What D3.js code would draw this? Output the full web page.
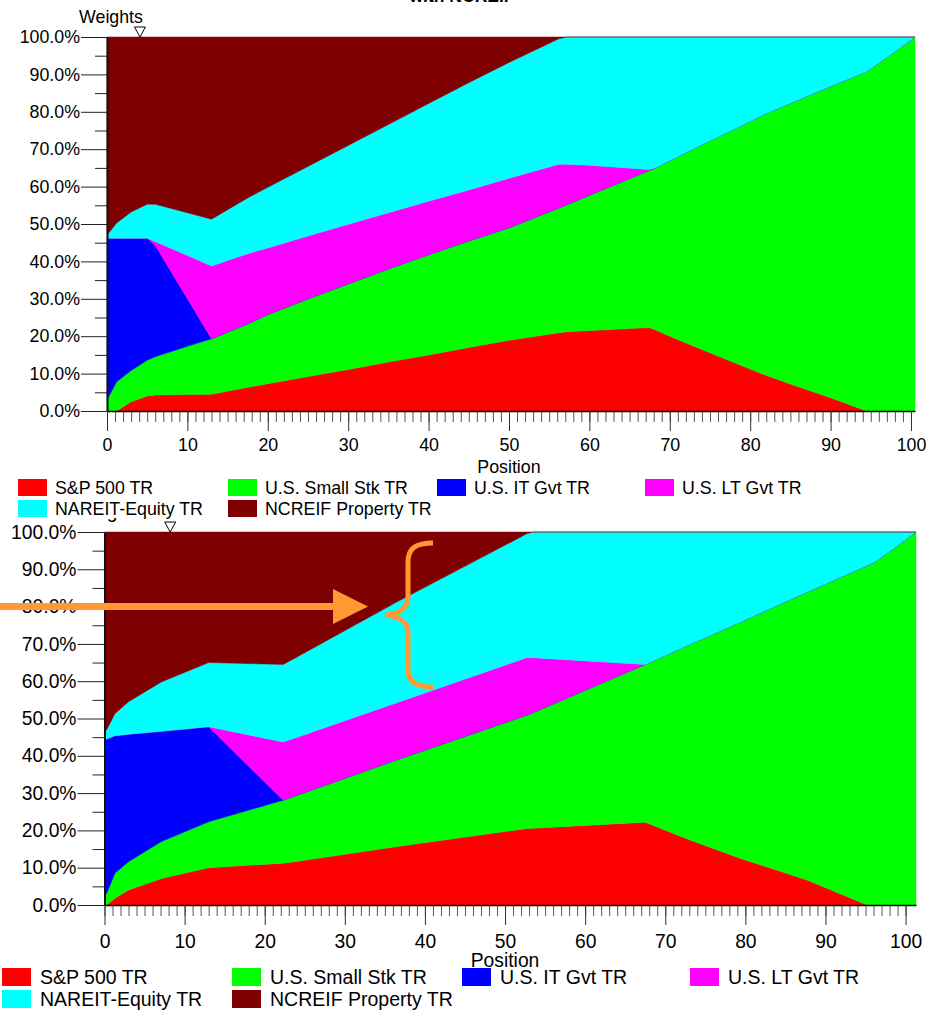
<!DOCTYPE html>
<html><head><meta charset="utf-8">
<script src="https://cdn.jsdelivr.net/npm/d3@7"></script>
<style>
body{margin:0;background:#fff}
svg{display:block}
text{font-family:"Liberation Sans",Arial,Helvetica,sans-serif;fill:#000}
</style>
</head><body>
<svg id="chart" width="930" height="1012"></svg>
<script>
// ---------- shared ----------
const seriesNames = ["S&P 500 TR","U.S. Small Stk TR","U.S. IT Gvt TR","U.S. LT Gvt TR","NAREIT-Equity TR","NCREIF Property TR"];
const seriesColors = ["#ff0000","#00ff00","#0000ff","#ff00ff","#00ffff","#7f0000"];
const yTickValues = [0,10,20,30,40,50,60,70,80,90,100];
const yMinorTickValues = [5,15,25,35,45,55,65,75,85,95];
const xTickValues = [0,10,20,30,40,50,60,70,80,90,100];
const xMinorTickValues = d3.range(0,101,1);

// ---------- top chart (weights in %) ----------
const topPositions = [0,1.2,3,5,6,10,13,17.7,20,25,30,35,40,45,50,56.2,57.2,60,67.4,68.2,70,73.6,80,81.9,85,90.2,94.5,95.3,100.5];
const topSP500   = [0,0,2.5,4.0,4.3,4.4,4.5,6.4,7.3,9.2,11.1,13.1,15.0,17.0,18.9,20.9,21.2,21.5,22.3,21.7,20.0,16.8,11.2,9.6,7.2,3.4,0,0,0];
const topSmall   = [3.0,7.8,8.3,9.6,10.2,12.9,14.8,17.1,18.5,20.8,22.9,24.9,26.8,28.5,30.1,33.4,34.0,36.2,42.0,43.3,47.0,54.0,66.3,69.9,75.1,83.6,90.8,92.0,100];
const topITGvt   = [43.2,38.4,35.4,32.6,29.8,12.7,0,0,0,0,0,0,0,0,0,0,0,0,0,0,0,0,0,0,0,0,0,0,0];
const topLTGvt   = [0,0,0,0,1.0,11.6,19.5,18.7,17.8,16.8,15.9,15.0,14.3,13.6,13.2,11.7,10.8,8.0,0.3,0,0,0,0,0,0,0,0,0,0];
const topNAREIT  = [0.8,4.1,7.0,9.1,10.0,11.4,12.5,15.0,16.2,18.6,21.1,23.6,26.1,28.7,31.0,33.5,34.0,34.3,35.4,35.0,33.0,29.2,22.5,20.5,17.7,13.0,9.2,8.0,0];
const topNCREIF  = [53.0,49.7,46.8,44.7,44.7,47.0,48.7,42.8,40.2,34.6,29.0,23.4,17.8,12.2,6.8,0.5,0,0,0,0,0,0,0,0,0,0,0,0,0];
const topMarker = 4.1;

// ---------- bottom chart (weights in %) ----------
const botPositions = [0,0.27,1.3,3.0,7.1,13.0,22.3,23.7,36.3,52.7,53.5,67.5,73.1,79.4,87.7,95.2,96.2,101.3];
const botSP500   = [0,0,1.8,4.0,7.1,10.0,11.2,11.6,15.6,20.5,20.6,22.2,17.4,12.5,6.7,0,0,0];
const botSmall   = [3.1,3.1,6.7,7.6,9.9,12.3,16.9,17.6,23.2,30.4,31.0,42.3,52.5,63.4,77.2,91.0,92.0,100];
const botITGvt   = [41.1,41.4,36.9,34.2,29.6,25.5,0,0,0,0,0,0,0,0,0,0,0,0];
const botLTGvt   = [0,0,0,0,0,0,15.6,15.5,15.3,15.4,14.7,0,0,0,0,0,0,0];
const botNAREIT  = [2.2,2.5,5.9,8.7,13.2,17.2,20.8,21.4,26.9,33.2,33.7,35.5,30.1,24.1,16.1,9.0,8.0,0];
const botNCREIF  = [53.6,53.0,48.7,45.5,40.2,35.0,35.5,33.9,19.0,0.5,0,0,0,0,0,0,0,0];
const botMarker = 8.2;

const svg = d3.select("#chart");

function drawChart(g, c) {
  const keys = seriesNames;
  const rows = c.positions.map((p, i) => {
    const r = {pos: p};
    keys.forEach((k, j) => r[k] = c.series[j][i]);
    return r;
  });
  const stacked = d3.stack().keys(keys)(rows);
  const x = d3.scaleLinear().domain([0, c.xMax]).range([c.x0, c.x1]);
  const y = d3.scaleLinear().domain([0, 100]).range([c.y0, c.y1]);
  const area = d3.area().x(d => x(d.data.pos)).y0(d => y(d[0])).y1(d => y(d[1]));

  g.append("g").selectAll("path").data(stacked).join("path")
    .attr("fill", (d, i) => seriesColors[i])
    .attr("stroke", (d, i) => seriesColors[i])
    .attr("stroke-width", 0.5)
    .attr("d", area);

  const ff = '"Liberation Sans",Arial,sans-serif';
  // y axis minor ticks
  const yMinor = g.append("g").attr("transform", `translate(${c.x0},0)`)
    .call(d3.axisLeft(y).tickValues(yMinorTickValues).tickSize(12).tickSizeOuter(0).tickFormat(""));
  yMinor.select(".domain").remove();
  yMinor.selectAll(".tick line").attr("stroke", "#222");
  // y axis major
  const yMajor = g.append("g").attr("transform", `translate(${c.x0},0)`)
    .call(d3.axisLeft(y).tickValues(yTickValues).tickSize(c.yTickLen).tickSizeOuter(0).tickPadding(1)
      .tickFormat(d => d.toFixed(1) + "%"));
  yMajor.select(".domain").attr("stroke", "#111").attr("stroke-width", 2);
  yMajor.selectAll(".tick line").attr("stroke", "#222");
  yMajor.selectAll("text").style("font-size", c.fs + "px").style("font-family", ff);

  // x axis minor
  const xMinor = g.append("g").attr("transform", `translate(0,${c.y0})`)
    .call(d3.axisBottom(x).tickValues(xMinorTickValues).tickSize(11).tickSizeOuter(0).tickFormat(""));
  xMinor.select(".domain").remove();
  xMinor.selectAll(".tick line").attr("stroke", "#555");
  // x axis major
  const xMajor = g.append("g").attr("transform", `translate(0,${c.y0})`)
    .call(d3.axisBottom(x).tickValues(xTickValues).tickSize(20).tickSizeOuter(0).tickPadding(c.xPad));
  xMajor.select(".domain").attr("stroke", "#000").attr("stroke-width", 1.5);
  xMajor.selectAll(".tick line").attr("stroke", "#333");
  xMajor.selectAll("text").style("font-size", c.fs + "px").style("font-family", ff);

  g.append("text").attr("x", (c.x0 + x(100)) / 2).attr("y", c.posLabelY)
    .attr("text-anchor", "middle").style("font-size", c.fs + "px").text("Position");

  // weights label and marker
  g.append("text").attr("x", c.x0 + 4).attr("y", c.y1 - 14)
    .attr("text-anchor", "middle").style("font-size", c.fs + "px").text("Weights");
  const mx = x(c.marker);
  g.append("path")
    .attr("d", `M${mx - 5.5},${c.y1 - 10}L${mx + 5.5},${c.y1 - 10}L${mx},${c.y1}Z`)
    .attr("fill", "#fff").attr("stroke", "#000").attr("stroke-width", 1);

  return {x, y};
}

function drawLegend(g, c) {
  if (c.bg) {
    g.append("rect").attr("x", 0).attr("y", c.bg[0]).attr("width", 930).attr("height", c.bg[1] - c.bg[0]).attr("fill", "#fff");
  }
  seriesNames.forEach((name, i) => {
    const col = i % 4, row = Math.floor(i / 4);
    const sx = c.cols[col], sy = c.rows[row];
    g.append("rect").attr("x", sx).attr("y", sy).attr("width", 29).attr("height", c.sh).attr("fill", seriesColors[i]);
    g.append("text").attr("x", sx + c.tdx).attr("y", sy + c.sh / 2 + c.fs * 0.35)
      .style("font-size", c.fs + "px").text(name);
  });
}

// cut-off title at very top
svg.append("text").attr("x", 462).attr("y", 1.5).attr("text-anchor", "middle")
  .style("font-size", "17.5px").style("font-weight", "bold").text("with NCREIF");

// bottom chart first (its label is partly covered by the top legend)
const gb = svg.append("g");
drawChart(gb, {
  positions: botPositions,
  series: [botSP500, botSmall, botITGvt, botLTGvt, botNAREIT, botNCREIF],
  xMax: 101.3, x0: 104.5, x1: 916, y0: 905, y1: 532,
  fs: 19.3, yTickLen: 27, xPad: 9, posLabelY: 967, marker: botMarker
});
drawLegend(gb, {cols: [2, 232, 462, 690], rows: [968, 990], sh: 18, tdx: 38, fs: 19.5});

const gt = svg.append("g");
drawChart(gt, {
  positions: topPositions,
  series: [topSP500, topSmall, topITGvt, topLTGvt, topNAREIT, topNCREIF],
  xMax: 100.5, x0: 107, x1: 915, y0: 411, y1: 37,
  fs: 17.8, yTickLen: 26, xPad: 7, posLabelY: 473, marker: topMarker
});
drawLegend(gt, {cols: [18, 228, 437, 645], rows: [479, 500], sh: 17, tdx: 37, fs: 17.8, bg: [476, 518]});

// orange annotation: arrow and brace
const orange = "#ff9933";
const ann = svg.append("g");
ann.append("rect").attr("x", 0).attr("y", 603).attr("width", 334).attr("height", 7).attr("fill", orange);
ann.append("path").attr("d", "M333,589L368,606.5L333,624Z").attr("fill", orange);
ann.append("path")
  .attr("d", "M433,543 C416,543 408,548 408,562 L408,597 C408,608 399,614 385,615 C399,616 408,622 408,633 L408,670 C408,681 416,687 433,687")
  .attr("fill", "none").attr("stroke", orange).attr("stroke-width", 5);
</script>
</body></html>
